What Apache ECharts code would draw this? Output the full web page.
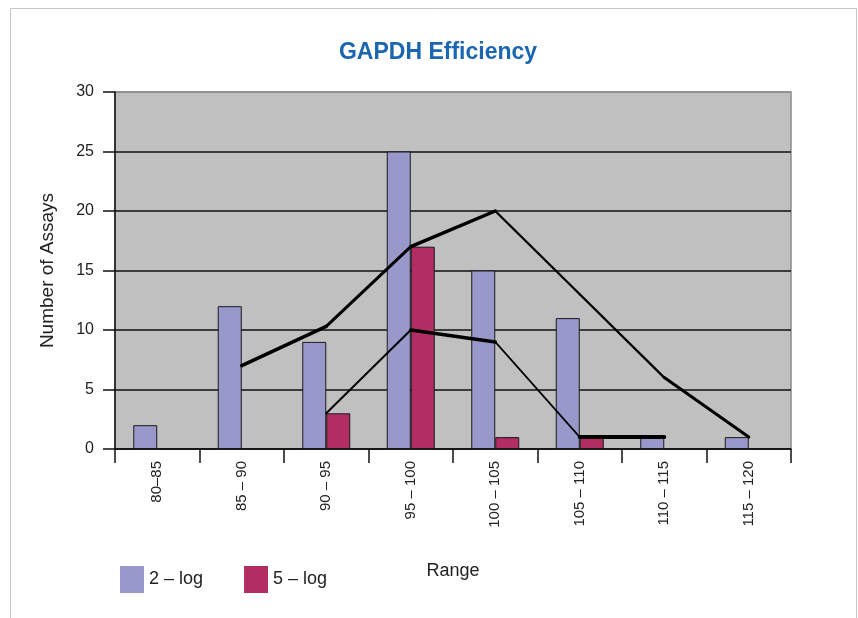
<!DOCTYPE html>
<html>
<head>
<meta charset="utf-8">
<script src="https://cdn.jsdelivr.net/npm/echarts@6/dist/echarts.min.js"></script>
<style>
  html, body { margin: 0; padding: 0; background: #fff; }
  #chart { width: 858px; height: 618px; }
</style>
</head>
<body>
<div id="chart"></div>
<script>
// ---- data ----
const categories = ['80–85', '85 – 90', '90 – 95', '95 – 100', '100 – 105', '105 – 110', '110 – 115', '115 – 120'];
const twoLog = [2, 12, 9, 25, 15, 11, 1, 1];
const fiveLog = ['-', '-', 3, 17, 1, 1, '-', '-'];
const trendUpper = ['-', 7, 10.3, 17, 20, 13, 6, 1];
const trendLower = ['-', '-', 3, 10, 9, 1, 1, '-'];
const yTicks = [0, 5, 10, 15, 20, 25, 30];

// stroke widths of each trend segment (segment i joins point i and i+1)
const upperSegW = [0, 3.5, 3, 3.5, 2.3, 2.3, 3];
const lowerSegW = [0, 0, 2, 3.5, 1.7, 4, 0];

const SANS = "'Liberation Sans', Arial, sans-serif";

function segmentSeries(values, widths) {
  const out = [];
  for (let i = 0; i < values.length - 1; i++) {
    if (values[i] === '-' || values[i + 1] === '-') continue;
    const d = values.map((v, k) => (k === i || k === i + 1) ? v : '-');
    out.push({
      type: 'line', data: d, symbol: 'none', silent: true,
      lineStyle: { color: '#000', width: widths[i] || 2.5, cap: 'round', join: 'round' },
      z: 5, animation: false
    });
  }
  return out;
}

const chart = echarts.init(document.getElementById('chart'), null, { renderer: 'canvas' });
chart.setOption({
  animation: false,
  backgroundColor: '#fff',
  title: {
    text: 'GAPDH Efficiency',
    left: 433, top: 36, textAlign: 'center',
    textStyle: { color: '#1a66b0', fontFamily: SANS, fontWeight: 'bold', fontSize: 23 }
  },
  graphic: [{
    type: 'rect', silent: true, z: -10,
    shape: { x: 10.5, y: 8.5, width: 846, height: 700 },
    style: { fill: 'none', stroke: '#c6c6c6', lineWidth: 1 }
  }],
  legend: {
    left: 115, top: 561,
    itemWidth: 24, itemHeight: 27, itemGap: 41,
    icon: 'rect',
    data: ['2 – log', '5 – log'],
    itemStyle: { borderWidth: 0 },
    textStyle: { fontFamily: SANS, fontSize: 18, color: '#222', padding: 0 }
  },
  grid: {
    left: 115, right: 67, top: 92, bottom: 169,
    show: true, backgroundColor: '#c0c0c0', borderColor: '#8c8c8c', borderWidth: 1.5
  },
  xAxis: {
    type: 'category',
    data: categories,
    boundaryGap: true,
    name: 'Range', nameLocation: 'middle', nameGap: 113,
    nameTextStyle: { fontFamily: SANS, fontSize: 18, color: '#222' },
    axisLine: { lineStyle: { color: '#111', width: 1.5 } },
    axisTick: { show: true, length: 14, alignWithLabel: false, lineStyle: { color: '#111', width: 1.5 } },
    axisLabel: { rotate: 90, margin: 12, fontFamily: SANS, fontSize: 15, color: '#222', interval: 0 },
    splitLine: { show: false }
  },
  yAxis: {
    type: 'value', min: yTicks[0], max: yTicks[yTicks.length - 1], interval: 5,
    name: 'Number of Assays', nameLocation: 'middle', nameGap: 58, nameRotate: 90,
    nameTextStyle: { fontFamily: SANS, fontSize: 19, color: '#222' },
    axisLine: { show: true, lineStyle: { color: '#111', width: 1.5 } },
    axisTick: { show: true, length: 12, inside: false, lineStyle: { color: '#111', width: 1.5 } },
    axisLabel: { margin: 21, fontFamily: SANS, fontSize: 16, color: '#222' },
    splitLine: { show: true, lineStyle: { color: ['#111', '#111', '#111', '#111', '#111', '#111', '#8c8c8c'], width: 1.5 } }
  },
  series: [
    {
      name: '2 – log', type: 'bar', data: twoLog,
      barWidth: 24, barGap: '0%',
      itemStyle: { color: '#9898cb', borderColor: '#1a1a1a', borderWidth: 1 }, z: 3
    },
    {
      name: '5 – log', type: 'bar', data: fiveLog,
      barWidth: 24, barGap: '0%',
      itemStyle: { color: '#b22d64', borderColor: '#1a1a1a', borderWidth: 1 }, z: 3
    },
    ...segmentSeries(trendUpper, upperSegW),
    ...segmentSeries(trendLower, lowerSegW)
  ]
});
</script>
</body>
</html>
